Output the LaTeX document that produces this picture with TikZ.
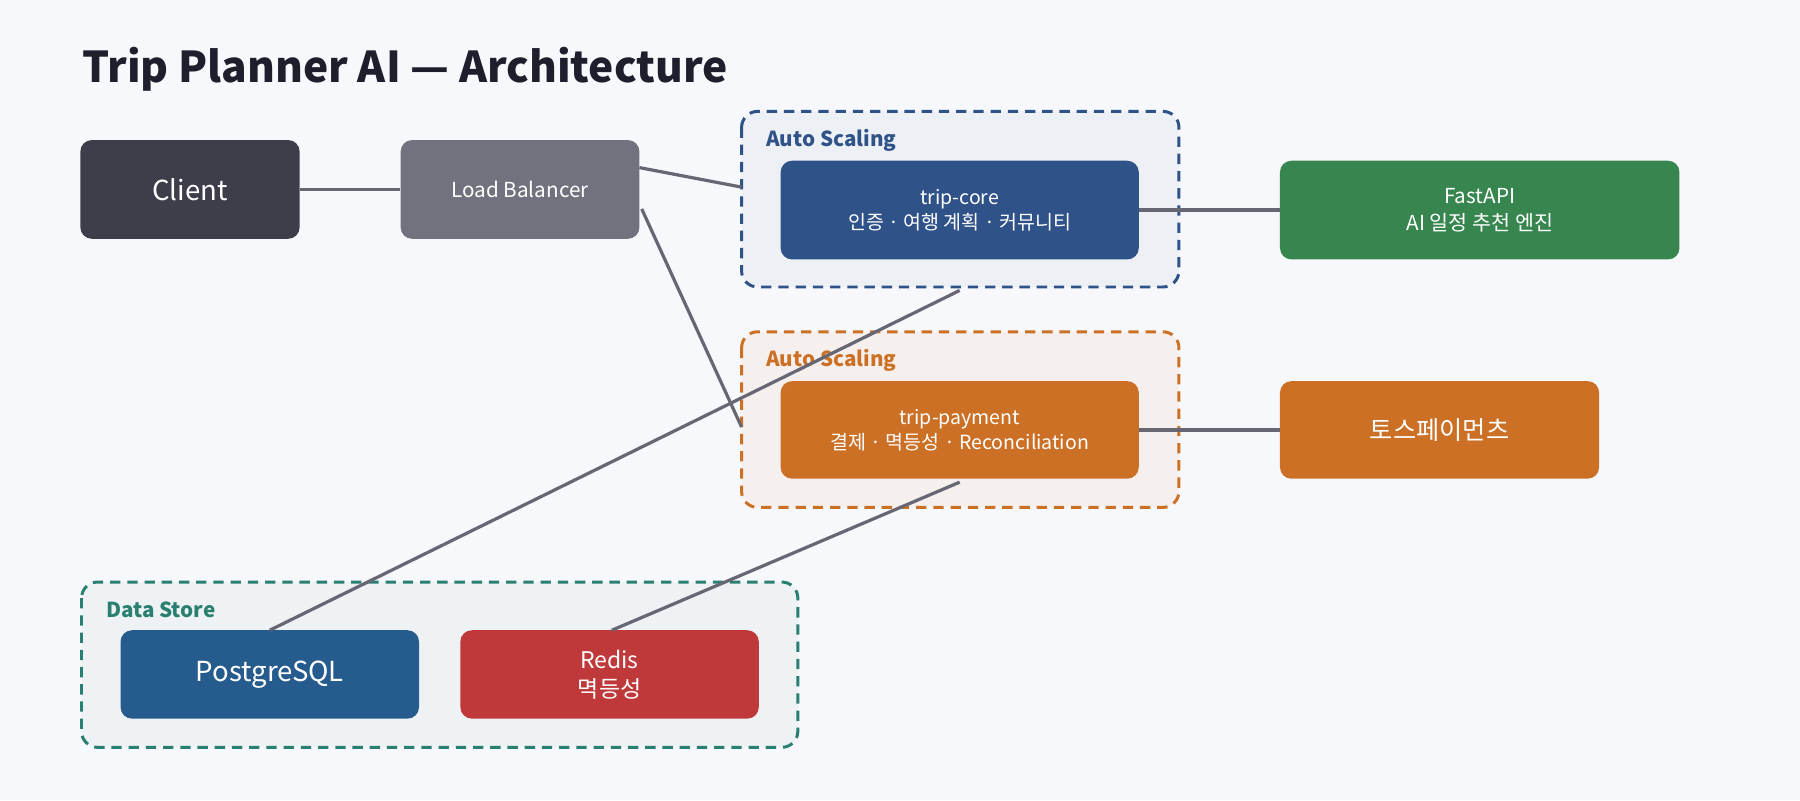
\documentclass[tikz,border=0pt]{standalone}
\usepackage{fontspec}
\setmainfont{Noto Sans CJK KR}
\begin{document}
\begin{tikzpicture}[x=1pt,y=-1pt,
 box/.style={draw=none,rounded corners=10pt,text=white,align=center,inner sep=0pt},
 grp/.style={rounded corners=14pt,dashed,line width=2.6pt,dash pattern=on 9pt off 6pt},
 ln/.style={draw=lc,line width=2.8pt},
 glab/.style={anchor=west,font=\fontsize{18}{20}\selectfont\bfseries}]
\definecolor{bg}{HTML}{F7F8FC}
\definecolor{lc}{HTML}{676773}
\definecolor{cl}{HTML}{3E3E4A}
\definecolor{lb}{HTML}{72727E}
\definecolor{bl}{HTML}{2F5288}
\definecolor{blf}{HTML}{EDF0F5}
\definecolor{or}{HTML}{CC7025}
\definecolor{orf}{HTML}{F5F0EE}
\definecolor{gr}{HTML}{37864F}
\definecolor{te}{HTML}{2A8070}
\definecolor{tef}{HTML}{EEF2F4}
\definecolor{pg}{HTML}{265B8E}
\definecolor{rd}{HTML}{C0393A}
\definecolor{tt}{HTML}{1E1E2C}
\fill[bg] (0,0) rectangle (1568,697);
\useasboundingbox (0,0) rectangle (1568,697);
\node[anchor=west,text=tt,font=\fontsize{37}{40}\selectfont\bfseries] (title) at (68,60) {Trip Planner AI — Architecture};
% groups
\draw[grp,draw=bl,fill=blf] (646,97) rectangle (1027,250);
\node[glab,text=bl] (g1) at (664,122) {Auto Scaling};
\draw[grp,draw=or,fill=orf] (646,289) rectangle (1027,442);
\node[glab,text=or] (g2) at (664,314) {Auto Scaling};
\draw[grp,draw=te,fill=tef] (71,507) rectangle (695,651);
\node[glab,text=te] (g3) at (89,531) {Data Store};
% nodes
\node[box,fill=cl,minimum width=191pt,minimum height=86pt,font=\fontsize{24}{26}\selectfont] (client) at (165.5,165) {Client};
\node[box,fill=lb,minimum width=208pt,minimum height=86pt,font=\fontsize{18}{20}\selectfont] (lb) at (453,165) {Load Balancer};
\node[box,fill=bl,minimum width=312pt,minimum height=86pt,font=\fontsize{17}{22}\selectfont] (core) at (836,183) {trip-core\\인증 · 여행 계획 · 커뮤니티};
\node[box,fill=gr,minimum width=348pt,minimum height=86pt,font=\fontsize{18}{23}\selectfont] (fast) at (1289,183) {FastAPI\\AI 일정 추천 엔진};
\node[box,fill=or,minimum width=312pt,minimum height=85pt,font=\fontsize{17}{22}\selectfont] (pay) at (836,374.5) {trip-payment\\결제 · 멱등성 · Reconciliation};
\node[box,fill=or,minimum width=278pt,minimum height=85pt,font=\fontsize{22}{24}\selectfont] (toss) at (1254,374.5) {토스페이먼츠};
\node[box,fill=pg,minimum width=260pt,minimum height=77pt,font=\fontsize{24}{26}\selectfont] (pgs) at (235,587.5) {PostgreSQL};
\node[box,fill=rd,minimum width=260pt,minimum height=77pt,font=\fontsize{20}{25}\selectfont] (redis) at (531,587.5) {Redis\\멱등성};
% connector ends
\coordinate (lbA) at (557,146);
\coordinate (lbB) at (559,182);
\coordinate (g1L) at (646,163);
\coordinate (g2L) at (646,372);
\coordinate (coreB) at (836,253);
\coordinate (payB) at (836,420);
\coordinate (pgT) at (235,549);
\coordinate (rdT) at (533,549);
\draw[ln] (client.east) -- (lb.west);
\draw[ln] (lbA) -- (g1L);
\draw[ln] (lbB) -- (g2L);
\draw[ln] (core.east) -- (fast.west);
\draw[ln] (pay.east) -- (toss.west);
\draw[ln] (coreB) -- (pgT);
\draw[ln] (payB) -- (rdT);
\end{tikzpicture}
\end{document}
